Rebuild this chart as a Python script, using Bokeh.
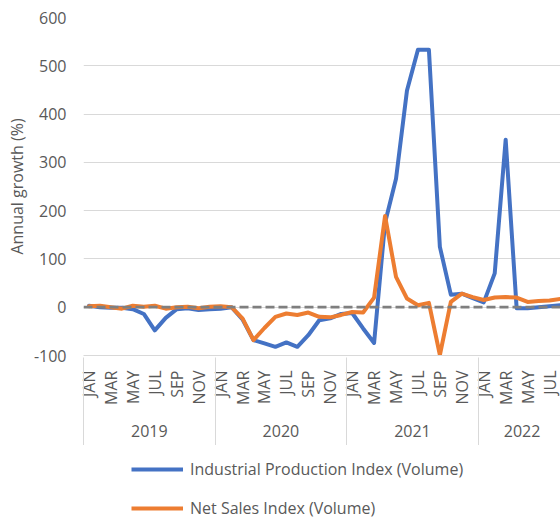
import numpy as np
from bokeh.plotting import figure
from bokeh.layouts import column
from bokeh.models import Range1d, FixedTicker, LinearAxis, Span, Legend, LegendItem
from bokeh.embed import file_html
from bokeh.resources import INLINE

# ---- data ----
years = ["2019", "2020", "2021", "2022"]
months_per_year = [12, 12, 12, 8]
month_names = ["JAN", "FEB", "MAR", "APR", "MAY", "JUN",
               "JUL", "AUG", "SEP", "OCT", "NOV", "DEC"]

industrial = [3, 0, -1, -1, -4, -14, -48, -22, -4, -2, -6, -4,
              -3, 0, -25, -68, -75, -82, -73, -82, -58, -27, -23, -14,
              -12, -44, -74, 175, 266, 449, 533, 533, 125, 26, 28, 19,
              10, 70, 347, -2, -2, 0, 2, 4]
net_sales = [2, 3, 0, -3, 3, 1, 3, -3, 0, 1, -2, 1,
             2, 0, -23, -68, -43, -20, -13, -16, -11, -20, -21, -16,
             -10, -11, 20, 189, 63, 18, 4, 9, -99, 11, 28, 21,
             15, 20, 21, 20, 11, 13, 14, 17]
y_ticks = [-100, 0, 100, 200, 300, 400, 500, 600]

series_names = ["Industrial Production Index (Volume)", "Net Sales Index (Volume)"]
series_colors = ["#4472C4", "#ED7D31"]

periods = [(y, m) for y, k in zip(years, months_per_year) for m in month_names[:k]]
x = list(range(len(periods)))
month_labels = {i: (m if month_names.index(m) % 2 == 0 else "") for i, (y, m) in enumerate(periods)}

# year boundaries / centres in month-index units
starts = np.cumsum([0] + months_per_year[:-1])
year_bounds = [float(s) - 0.5 for s in starts]
year_centers = [float(s) + k / 2 - 0.5 for s, k in zip(starts, months_per_year)]

FONT = "Open Sans"
TXT = "#595959"
GRID = "#D9D9D9"

p = figure(width=560, height=445,
           x_range=Range1d(-0.5, 43.0), y_range=Range1d(-100, 600),
           output_backend="svg", toolbar_location=None,
           min_border_left=83, min_border_right=0, min_border_top=17, min_border_bottom=90)
p.outline_line_color = None
p.background_fill_color = "white"
p.border_fill_color = "white"

p.line(x, industrial, line_color=series_colors[0], line_width=4, line_join="round", line_cap="round")
p.line(x, net_sales, line_color=series_colors[1], line_width=4, line_join="round", line_cap="round")

p.add_layout(Span(location=0, dimension="width", line_color="#7F7F7F",
                  line_width=2.75, line_dash="9 4"))

# y axis
p.yaxis.ticker = FixedTicker(ticks=y_ticks)
p.yaxis.major_label_overrides = {v: str(v) for v in y_ticks}
p.yaxis.axis_line_color = None
p.yaxis.major_tick_line_color = None
p.yaxis.minor_tick_line_color = None
p.yaxis.major_tick_out = 0
p.yaxis.major_label_standoff = 17
p.yaxis.major_label_text_font = FONT
p.yaxis.major_label_text_font_size = "16px"
p.yaxis.major_label_text_color = TXT
p.yaxis.axis_label = "Annual growth (%)"
p.yaxis.axis_label_text_font = FONT
p.yaxis.axis_label_text_font_size = "16px"
p.yaxis.axis_label_text_font_style = "normal"
p.yaxis.axis_label_text_color = TXT
p.yaxis.axis_label_standoff = 3

p.ygrid.ticker = FixedTicker(ticks=y_ticks)
p.ygrid.grid_line_color = GRID
p.xgrid.visible = False

# month axis
xa = p.xaxis[0]
xa.ticker = FixedTicker(ticks=x)
xa.major_label_overrides = month_labels
xa.major_label_orientation = np.pi / 2
xa.major_tick_line_color = None
xa.minor_tick_line_color = None
xa.major_tick_out = 0
xa.major_tick_in = 0
xa.minor_tick_in = 0
xa.minor_tick_out = 0
xa.axis_line_color = GRID
xa.major_label_standoff = 15
xa.major_label_text_font = FONT
xa.major_label_text_font_size = "16px"
xa.major_label_text_color = TXT

# year axis (labels + year separators as minor ticks)
ya = LinearAxis(ticker=FixedTicker(ticks=year_centers, minor_ticks=year_bounds),
                major_label_overrides={c: y for c, y in zip(year_centers, years)})
ya.axis_line_color = None
ya.major_tick_line_color = None
ya.major_tick_out = 42
ya.major_tick_in = 0
ya.minor_tick_line_color = GRID
ya.minor_tick_in = 50
ya.minor_tick_out = 38
ya.major_label_standoff = -25
ya.major_label_text_font = FONT
ya.major_label_text_font_size = "16px"
ya.major_label_text_color = TXT
p.add_layout(ya, "below")

# legend in its own strip below the chart (frame aligned with the chart frame)
lg = figure(width=560, height=74, x_range=Range1d(0, 1), y_range=Range1d(0, 1),
            output_backend="svg", toolbar_location=None,
            x_axis_location=None, y_axis_location=None,
            min_border_left=83, min_border_right=0, min_border_top=0, min_border_bottom=0)
lg.outline_line_color = None
lg.xgrid.visible = False
lg.ygrid.visible = False
d1 = lg.line([0.1, 0.2], [5, 5], line_color=series_colors[0], line_width=4)
d2 = lg.line([0.1, 0.2], [5, 5], line_color=series_colors[1], line_width=4)
legend = Legend(items=[LegendItem(label=series_names[0], renderers=[d1]),
                       LegendItem(label=series_names[1], renderers=[d2])],
                location=(48, 0), orientation="vertical",
                glyph_width=52, glyph_height=20, label_height=20, spacing=17,
                padding=0, margin=0, border_line_color=None, background_fill_alpha=0,
                label_standoff=7, label_text_font=FONT, label_text_font_size="16px",
                label_text_color=TXT)
lg.add_layout(legend)

open("out.html", "w").write(file_html(column(p, lg, spacing=0), INLINE))
